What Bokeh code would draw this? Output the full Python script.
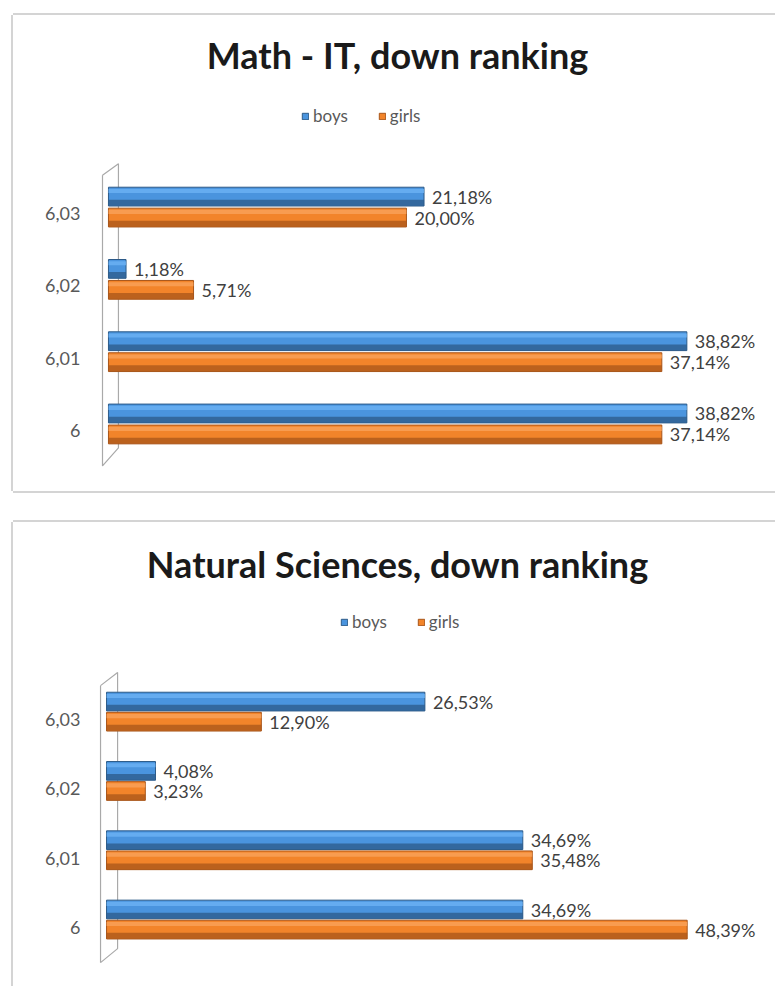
from bokeh.plotting import figure
from bokeh.models import Range1d, Legend, LegendItem, ColumnDataSource, LabelSet, Label, FixedTicker, Spacer
from bokeh.layouts import column, row
from bokeh.embed import file_html
from bokeh.resources import INLINE
from bokeh.core.properties import value

# ---------------- data ----------------
categories = ["6", "6,01", "6,02", "6,03"]
series = ["boys", "girls"]
math_boys = [38.82, 38.82, 1.18, 21.18]
math_girls = [37.14, 37.14, 5.71, 20.00]
sci_boys = [34.69, 34.69, 4.08, 26.53]
sci_girls = [48.39, 35.48, 3.23, 12.90]
titles = ["Math - IT, down ranking", "Natural Sciences, down ranking"]

BLUE, BLUE_D, BLUE_L = "#4a94de", "#2c5a88", "#6cb2f4"
ORANGE, ORANGE_D, ORANGE_L = "#f2842a", "#a8551a", "#f9a35a"
FONT = "Lato"


def fmt(v):
    return f"{v:.2f}%".replace(".", ",")


def build(title, boys, girls, width, height, x_range, y_range, mb_left,
          off_b, off_g, bh, legend_xy, title_xy, wall, bottom_line):
    pos = [i + 0.5 for i in range(len(categories))]
    src = ColumnDataSource(dict(
        pos=pos, boys=boys, girls=girls,
        boys_lbl=[fmt(v) for v in boys], girls_lbl=[fmt(v) for v in girls],
        yb=[c + off_b for c in pos], yg=[c + off_g for c in pos],
        yb_d=[c + off_b - bh * 0.33 for c in pos], yg_d=[c + off_g - bh * 0.33 for c in pos],
        yb_l=[c + off_b + bh * 0.3 for c in pos], yg_l=[c + off_g + bh * 0.3 for c in pos],
    ))
    p = figure(width=width, height=height, output_backend="svg", toolbar_location=None,
               y_range=Range1d(*y_range), x_range=Range1d(*x_range),
               min_border_top=0, min_border_left=mb_left, min_border_right=0,
               min_border_bottom=0, outline_line_color=None,
               background_fill_color="white", border_fill_color="white")
    shadow = "-2px 0 0 #d4d4d4, 0 -2px 0 #d4d4d4"
    if bottom_line:
        shadow += ", 0 2px 0 #d4d4d4"
    p.styles = {"box-shadow": shadow}
    p.xgrid.visible = False
    p.ygrid.visible = False
    p.xaxis.visible = False
    ax = p.yaxis[0]
    ax.ticker = FixedTicker(ticks=pos)
    ax.major_label_overrides = {c: lab for c, lab in zip(pos, categories)}
    ax.axis_line_color = None
    ax.major_tick_line_color = None
    ax.minor_tick_line_color = None
    ax.major_tick_out = 0
    ax.major_tick_in = 0
    ax.minor_tick_out = 0
    ax.major_label_text_font = FONT
    ax.major_label_text_font_size = "18px"
    ax.major_label_text_color = "#595959"
    ax.major_label_standoff = 15

    # 3D wall of the bar chart
    xl, xr, ytl, ytr, ybl, ybr = wall
    p.line(x=[xl, xr, xr, xl, xl], y=[ytl, ytr, ybr, ybl, ytl], line_color="#a9a9a9", line_width=1.2)

    renderers = []
    for key, yk, c, cd, cl in (("boys", "yb", BLUE, BLUE_D, BLUE_L),
                               ("girls", "yg", ORANGE, ORANGE_D, ORANGE_L)):
        r = p.hbar(y=yk, right=key, left=0, height=bh, source=src,
                   fill_color=c, line_color=cd, line_width=1)
        p.hbar(y=yk + "_d", right=key, left=0, height=bh * 0.32, source=src,
               fill_color=cd, fill_alpha=0.75, line_color=None)
        p.hbar(y=yk + "_l", right=key, left=0, height=bh * 0.22, source=src,
               fill_color=cl, fill_alpha=0.8, line_color=None)
        renderers.append(r)
        p.add_layout(LabelSet(x=key, y=yk, text=key + "_lbl", source=src, x_offset=8,
                              text_baseline="middle", text_font=value(FONT),
                              text_font_size="18px", text_color="#404040"))

    legend = Legend(items=[LegendItem(label=s, renderers=[r]) for s, r in zip(series, renderers)],
                    orientation="horizontal", location=legend_xy,
                    label_text_font=FONT, label_text_font_size="17px",
                    label_text_color="#595959", glyph_width=8, glyph_height=8,
                    label_standoff=4, spacing=30, padding=0, margin=0,
                    border_line_color=None, background_fill_alpha=0)
    p.add_layout(legend)

    p.add_layout(Label(x=title_xy[0], y=title_xy[1], x_units="screen", y_units="screen",
                       text=title, text_align="center", text_baseline="middle",
                       text_font=FONT, text_font_style="bold", text_font_size="36px",
                       text_color="#1a1a1a"))
    return p


p1 = build(titles[0], math_boys, math_girls, width=762, height=476,
           x_range=(-0.87, 44.77), y_range=(-0.344, 6.24), mb_left=82,
           off_b=0.235, off_g=-0.055, bh=0.26, legend_xy=(206, 365), title_xy=(302, 437),
           wall=(-0.40, 0.67, 4.03, 4.19, 0.01, 0.26), bottom_line=True)
p2 = build(titles[1], sci_boys, sci_girls, width=762, height=464,
           x_range=(-0.92, 55.75), y_range=(-0.351, 6.344), mb_left=82,
           off_b=0.26, off_g=-0.03, bh=0.27, legend_xy=(245, 354), title_xy=(302, 423),
           wall=(-0.5, 0.92, 3.99, 4.18, -0.006, 0.196), bottom_line=False)

layout = row(Spacer(width=13, height=10),
             column(Spacer(width=10, height=15), p1, Spacer(width=10, height=31), p2, spacing=0),
             spacing=0)
open("out.html", "w").write(file_html(layout, INLINE))
